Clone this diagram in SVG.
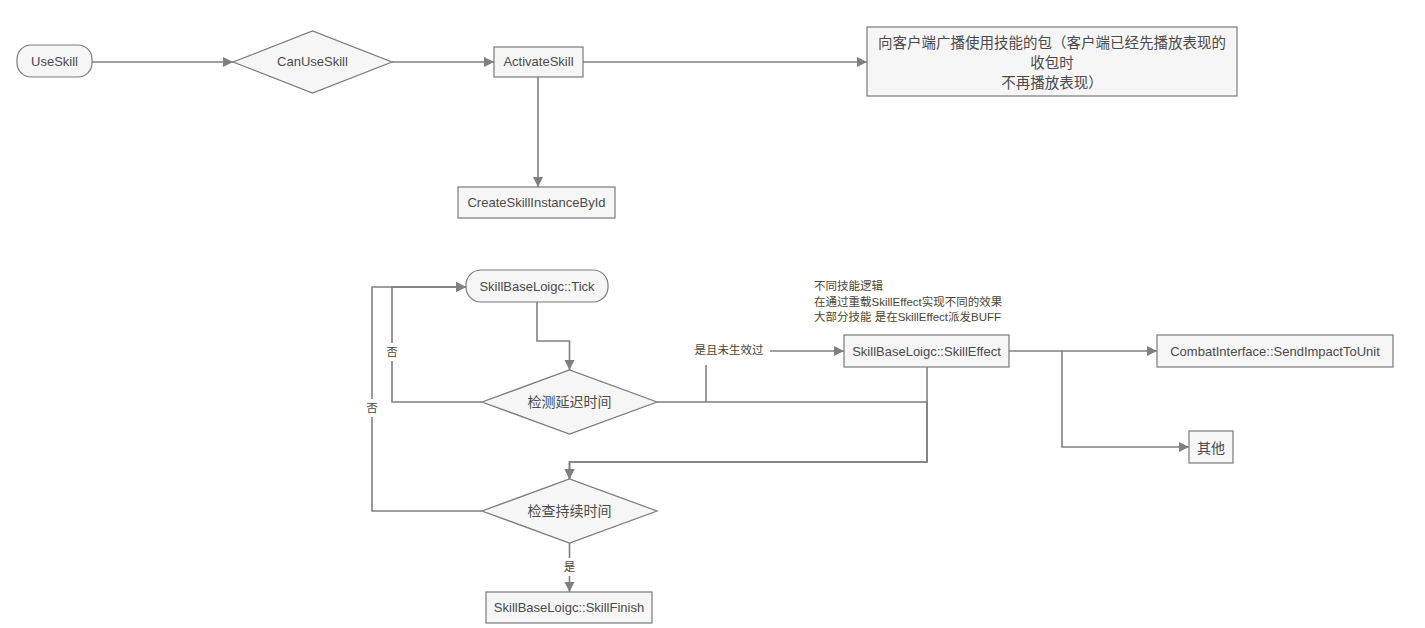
<svg xmlns="http://www.w3.org/2000/svg" width="1425" height="628" viewBox="0 0 1425 628">
<defs>
<marker id="arr" markerUnits="userSpaceOnUse" markerWidth="11" markerHeight="11" refX="10" refY="5" orient="auto">
<path d="M0,0 L10,5 L0,10 z" fill="#7f7f7f"/>
</marker>
<style>
.shape{fill:#f6f6f6;stroke:#7a7a7a;stroke-width:1.2}
.t{font-family:"Liberation Sans","Noto Sans CJK SC",sans-serif;font-size:13px;fill:#4a4a4a;text-anchor:middle;dominant-baseline:central}
.cj{font-family:"Noto Sans CJK SC",sans-serif;font-size:14px}
.big{font-size:14.5px}
.lbl{font-family:"Liberation Sans","Noto Sans CJK SC",sans-serif;font-size:11.5px;fill:#4d4532;dominant-baseline:central}
.ca{fill:none;stroke:#808080;stroke-width:1.6;marker-end:url(#arr)}
.bg{fill:#fff}
</style>
</defs>
<rect width="1425" height="628" fill="#fff"/>
<g id="connectors">
<path class="ca" d="M92,62 H233"/>
<path class="ca" d="M392,62 H494"/>
<path class="ca" d="M583,62 H867"/>
<path class="ca" d="M538,77 V187"/>
<path class="ca" d="M537,302 V341 H569.5 V370"/>
<path class="ca" d="M482,511 H372 V287 H466"/>
<path class="ca" d="M482,402 H392 V287 H466"/>
<path class="ca" d="M657,402 H706 V351 H844"/>
<path class="ca" d="M706,402 H927 V462 H569.5 V479"/>
<path class="ca" d="M927,367 V462 H569.5 V479"/>
<path class="ca" d="M1009,351 H1157"/>
<path class="ca" d="M1062,351 V447 H1189"/>
<path class="ca" d="M569.5,543 V592"/>
<rect class="bg" x="384" y="343" width="16" height="18"/>
<text class="lbl" x="392" y="352" text-anchor="middle">否</text>
<rect class="bg" x="364" y="399" width="16" height="18"/>
<text class="lbl" x="372" y="408" text-anchor="middle">否</text>
<rect class="bg" x="561" y="558" width="17" height="18"/>
<text class="lbl" x="569.5" y="567" text-anchor="middle">是</text>
<rect class="bg" x="690" y="339" width="80" height="26"/>
<text class="lbl" x="729" y="350" text-anchor="middle">是且未生效过</text>
</g>
<g id="n-useskill">
<rect class="shape" x="17" y="45" width="75" height="32" rx="14"/>
<text class="t" x="54.5" y="61">UseSkill</text>
</g>
<g id="n-canuseskill">
<polygon class="shape" points="233,62 312.5,31 392,62 312.5,93"/>
<text class="t" x="312.5" y="61">CanUseSkill</text>
</g>
<g id="n-activateskill">
<rect class="shape" x="494" y="47" width="89" height="30"/>
<text class="t" x="538.5" y="61">ActivateSkill</text>
</g>
<g id="n-broadcast">
<rect class="shape" x="867" y="27" width="370" height="69"/>
<text class="t cj big" x="1052" y="41.5">向客户端广播使用技能的包（客户端已经先播放表现的</text>
<text class="t cj big" x="1052" y="61.5">收包时</text>
<text class="t cj big" x="1052" y="81.5">不再播放表现）</text>
</g>
<g id="n-create">
<rect class="shape" x="458" y="187" width="157" height="31"/>
<text class="t" x="536.5" y="202">CreateSkillInstanceById</text>
</g>
<g id="n-tick">
<rect class="shape" x="466" y="270" width="142" height="32" rx="15"/>
<text class="t" x="537" y="286">SkillBaseLoigc::Tick</text>
</g>
<g id="n-checkdelay">
<polygon class="shape" points="482,402 569.5,370 657,402 569.5,434"/>
<text class="t cj" x="569.5" y="401">检测延迟时间</text>
</g>
<g id="n-skilleffect">
<rect class="shape" x="844" y="335" width="165" height="32"/>
<text class="t" x="926.5" y="351">SkillBaseLoigc::SkillEffect</text>
</g>
<g id="n-note">
<text class="lbl" x="814" y="286">不同技能逻辑</text>
<text class="lbl" x="814" y="302">在通过重载SkillEffect实现不同的效果</text>
<text class="lbl" x="814" y="317">大部分技能 是在SkillEffect派发BUFF</text>
</g>
<g id="n-combat">
<rect class="shape" x="1157" y="335" width="236" height="32"/>
<text class="t" x="1275" y="351">CombatInterface::SendImpactToUnit</text>
</g>
<g id="n-other">
<rect class="shape" x="1189" y="431" width="44" height="32"/>
<text class="t cj" x="1211" y="447">其他</text>
</g>
<g id="n-checkduration">
<polygon class="shape" points="482,511 569.5,479 657,511 569.5,543"/>
<text class="t cj" x="569.5" y="510">检查持续时间</text>
</g>
<g id="n-finish">
<rect class="shape" x="486" y="592" width="166" height="31"/>
<text class="t" x="569" y="607">SkillBaseLoigc::SkillFinish</text>
</g>
</svg>
